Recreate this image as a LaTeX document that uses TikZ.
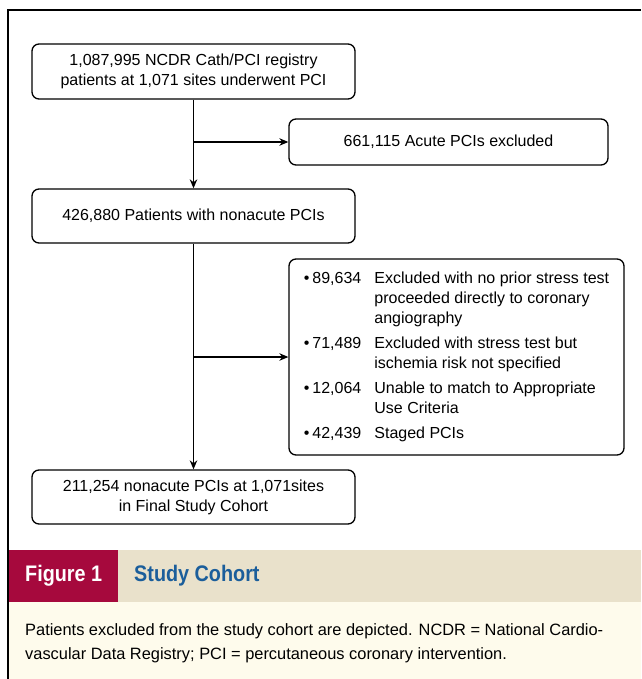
\documentclass[tikz,border=0pt]{standalone}
\usepackage{fontspec}
\setmainfont{Liberation Sans}
\newfontfamily\capfont[FakeStretch=0.88]{Liberation Sans}
\usetikzlibrary{arrows.meta}
\definecolor{JCFigRed}{HTML}{A6093D}
\definecolor{JCBlue}{HTML}{1B5E9B}
\definecolor{JCTan}{HTML}{E9E1CB}
\definecolor{JCCream}{HTML}{FEFBEC}

\tikzset{
  flowbox/.style={draw,rounded corners=7pt,line width=1.3pt,align=center,
    font=\fontsize{16}{20}\selectfont,inner sep=2pt},
  mainbox/.style={flowbox,minimum width=323pt,minimum height=54pt},
  flowarr/.style={-{Stealth[length=9pt,width=7.5pt]},line width=1.3pt},
}

\begin{document}
\begin{tikzpicture}[x=1pt,y=-1pt]
  \useasboundingbox (0,0) rectangle (641,679);
  % caption panel
  \fill[JCTan] (8,550) rectangle (641,602);
  \fill[JCCream] (8,602) rectangle (641,679);
  \fill[JCFigRed] (8,550) rectangle (118,602);
  \draw[line width=1.6pt] (8,679) -- (8,10) -- (641,10);
  % flow boxes
  \node[mainbox,minimum height=55pt] (reg) at (193.5,71.5)
    {1,087,995 NCDR Cath/PCI registry\\patients at 1,071 sites underwent PCI};
  \node[flowbox,minimum width=319pt,minimum height=46pt] (acute) at (448.5,142)
    {661,115 Acute PCIs excluded};
  \node[mainbox] (nonac) at (193.5,216) {426,880 Patients with nonacute PCIs};
  \node[flowbox,minimum width=335pt,minimum height=196pt] (excl) at (456.5,357) {%
    \begin{tabular}{@{}l@{\hspace{3pt}}r@{\hspace{13pt}}l@{}}
      \textbullet & 89,634 & Excluded with no prior stress test\\
                  &        & proceeded directly to coronary\\
                  &        & angiography\\[5pt]
      \textbullet & 71,489 & Excluded with stress test but\\
                  &        & ischemia risk not specified\\[5pt]
      \textbullet & 12,064 & Unable to match to Appropriate\\
                  &        & Use Criteria\\[5pt]
      \textbullet & 42,439 & Staged PCIs
    \end{tabular}};
  \node[mainbox] (final) at (193.5,497)
    {211,254 nonacute PCIs at 1,071sites\\in Final Study Cohort};
  % connectors
  \draw[flowarr] (reg) -- (nonac);
  \draw[flowarr] (reg.south |- acute.west) -- (acute);
  \draw[flowarr] (nonac) -- (final);
  \draw[flowarr] (nonac.south |- excl.west) -- (excl);
  % caption text
  \node[anchor=west,text=white,inner sep=0,font=\capfont\bfseries\fontsize{22.5}{24}\selectfont]
    (figlab) at (25,576) {Figure 1};
  \node[anchor=west,text=JCBlue,inner sep=0,font=\capfont\bfseries\fontsize{22.5}{24}\selectfont]
    (figtitle) at (134,576) {Study Cohort};
  \node[anchor=north west,align=left,inner sep=0,font=\fontsize{16.4}{24}\selectfont]
    (capbody) at (25,623.5) {Patients excluded from the study cohort are depicted. NCDR = National Cardio-\\
    vascular Data Registry; PCI = percutaneous coronary intervention.};
\end{tikzpicture}
\end{document}
